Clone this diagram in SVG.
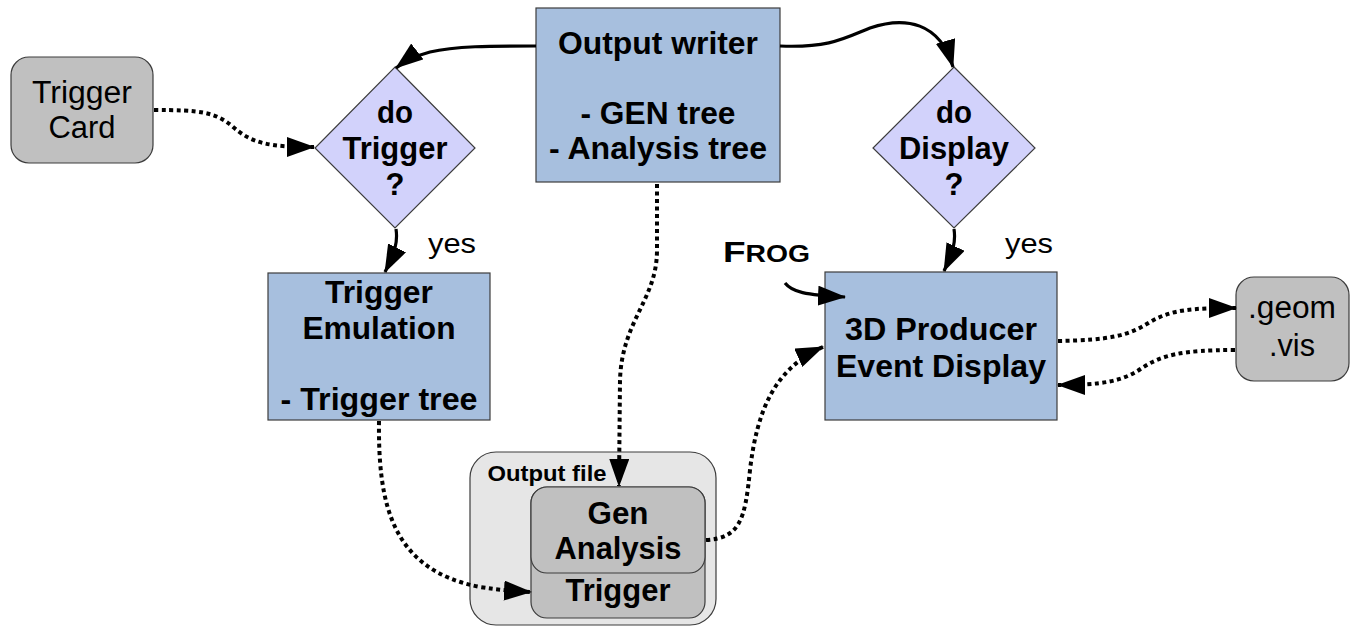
<svg xmlns="http://www.w3.org/2000/svg" width="1356" height="628" viewBox="0 0 1356 628">
  <style>
    text { font-family: "Liberation Sans", Arial, sans-serif; fill: #000; text-anchor: middle; }
    .b { font-weight: bold; font-size: 31px; }
    .n { font-size: 31px; }
    .y { font-size: 27px; }
    .proc { fill: #a7bfde; stroke: #3c3c3c; stroke-width: 1.2; }
    .dec { fill: #d2d2fb; stroke: #3c3c3c; stroke-width: 1.2; }
    .data { fill: #c0c0c0; stroke: #3c3c3c; stroke-width: 1.2; }
    .file { fill: #e6e6e6; stroke: #3c3c3c; stroke-width: 1.2; }
    .solid { fill: none; stroke: #000; stroke-width: 3.2; marker-end: url(#arrow); }
    .dot { fill: none; stroke: #000; stroke-width: 4; stroke-dasharray: 4 3.5; marker-end: url(#arrow); }
  </style>
  <defs>
    <marker id="arrow" viewBox="0 0 28 20" refX="27" refY="10" markerWidth="28" markerHeight="20" markerUnits="userSpaceOnUse" orient="auto">
      <path d="M0,0 L28,10 L0,20 Z" fill="#000"/>
    </marker>
  </defs>

  <!-- trigger card input -->
  <g id="trigger-card">
    <rect class="data" x="11" y="57" width="142" height="106" rx="18"/>
    <text class="n" x="82" y="103" textLength="100" lengthAdjust="spacingAndGlyphs">Trigger</text>
    <text class="n" x="82" y="138" textLength="67" lengthAdjust="spacingAndGlyphs">Card</text>
  </g>

  <!-- decision: do Trigger ? -->
  <g id="do-trigger">
    <polygon class="dec" points="395,67 475,148 395,228 315,148"/>
    <text class="b" x="395" y="123" textLength="36" lengthAdjust="spacingAndGlyphs">do</text>
    <text class="b" x="395" y="159" textLength="105" lengthAdjust="spacingAndGlyphs">Trigger</text>
    <text class="b" x="395" y="195">?</text>
  </g>

  <!-- output writer -->
  <g id="output-writer">
    <rect class="proc" x="536" y="8" width="244" height="174"/>
    <text class="b" x="658" y="54" textLength="200" lengthAdjust="spacingAndGlyphs">Output writer</text>
    <text class="b" x="658" y="124" textLength="155" lengthAdjust="spacingAndGlyphs">- GEN tree</text>
    <text class="b" x="658" y="159" textLength="218" lengthAdjust="spacingAndGlyphs">- Analysis tree</text>
  </g>

  <!-- decision: do Display ? -->
  <g id="do-display">
    <polygon class="dec" points="954,67 1035,148 954,228 873,148"/>
    <text class="b" x="954" y="123" textLength="36" lengthAdjust="spacingAndGlyphs">do</text>
    <text class="b" x="954" y="159" textLength="110" lengthAdjust="spacingAndGlyphs">Display</text>
    <text class="b" x="954" y="195">?</text>
  </g>

  <!-- trigger emulation -->
  <g id="trigger-emulation">
    <rect class="proc" x="268" y="273" width="222" height="147"/>
    <text class="b" x="379" y="303" textLength="108" lengthAdjust="spacingAndGlyphs">Trigger</text>
    <text class="b" x="379" y="339" textLength="153" lengthAdjust="spacingAndGlyphs">Emulation</text>
    <text class="b" x="379" y="410" textLength="197" lengthAdjust="spacingAndGlyphs">- Trigger tree</text>
  </g>

  <!-- event display -->
  <g id="event-display">
    <rect class="proc" x="825" y="272" width="232" height="148"/>
    <text class="b" x="941" y="340" textLength="192" lengthAdjust="spacingAndGlyphs">3D Producer</text>
    <text class="b" x="941" y="377" textLength="210" lengthAdjust="spacingAndGlyphs">Event Display</text>
  </g>

  <!-- geometry files -->
  <g id="geom-vis">
    <rect class="data" x="1236" y="277" width="113" height="104" rx="18"/>
    <text class="n" x="1292" y="318" textLength="88" lengthAdjust="spacingAndGlyphs">.geom</text>
    <text class="n" x="1292" y="356" textLength="46" lengthAdjust="spacingAndGlyphs">.vis</text>
  </g>

  <!-- output file with its trees -->
  <g id="output-file">
    <rect class="file" x="470" y="452" width="246" height="173" rx="26"/>
    <text x="547" y="481" font-weight="bold" font-size="22" textLength="119" lengthAdjust="spacingAndGlyphs">Output file</text>
    <g id="tree-trigger">
      <rect class="data" x="531" y="487" width="174" height="131" rx="16"/>
      <text class="b" x="618" y="601" textLength="105" lengthAdjust="spacingAndGlyphs">Trigger</text>
    </g>
    <g id="tree-gen-analysis">
      <rect class="data" x="531" y="487" width="174" height="86" rx="16"/>
      <text class="b" x="618" y="524" textLength="61" lengthAdjust="spacingAndGlyphs">Gen</text>
      <text class="b" x="618" y="559" textLength="127" lengthAdjust="spacingAndGlyphs">Analysis</text>
    </g>
  </g>

  <!-- labels -->
  <g id="labels">
    <text class="y" x="452" y="253" textLength="48" lengthAdjust="spacingAndGlyphs">yes</text>
    <text class="y" x="1029" y="253" textLength="48" lengthAdjust="spacingAndGlyphs">yes</text>
    <text x="723" y="262" font-weight="bold" style="text-anchor:start" textLength="87" lengthAdjust="spacingAndGlyphs"><tspan font-size="30">F</tspan><tspan font-size="23">ROG</tspan></text>
  </g>

  <!-- connectors -->
  <g id="connectors">
    <path class="solid" d="M536,46 C490,46 455,46 430,52 C415,56 405,61 396,68"/>
    <path class="solid" d="M780,46 C830,48 845,38 870,28 C905,16 940,22 953,67"/>
    <path class="solid" d="M396,229 C398,242 395,252 385,272"/>
    <path class="solid" d="M954,229 C956,242 953,252 944,271"/>
    <path class="solid" d="M785,283 C792,292 805,295 845,297"/>
    <path class="dot" d="M154,110 C200,110 215,112 232,126 C252,144 270,147 314,147"/>
    <path class="dot" d="M657,184 L657,250 C657,300 622,320 620,380 L619,486"/>
    <path class="dot" d="M379,421 C378,505 392,570 480,587 C500,590 512,591 531,592"/>
    <path class="dot" d="M706,540 C740,538 745,520 750,470 C757,410 775,368 823,347"/>
    <path class="dot" d="M1058,341 C1110,340 1128,336 1150,322 C1172,309 1195,308 1236,308"/>
    <path class="dot" d="M1235,350 C1182,350 1162,355 1142,368 C1122,382 1100,385 1058,385"/>
  </g>
</svg>
